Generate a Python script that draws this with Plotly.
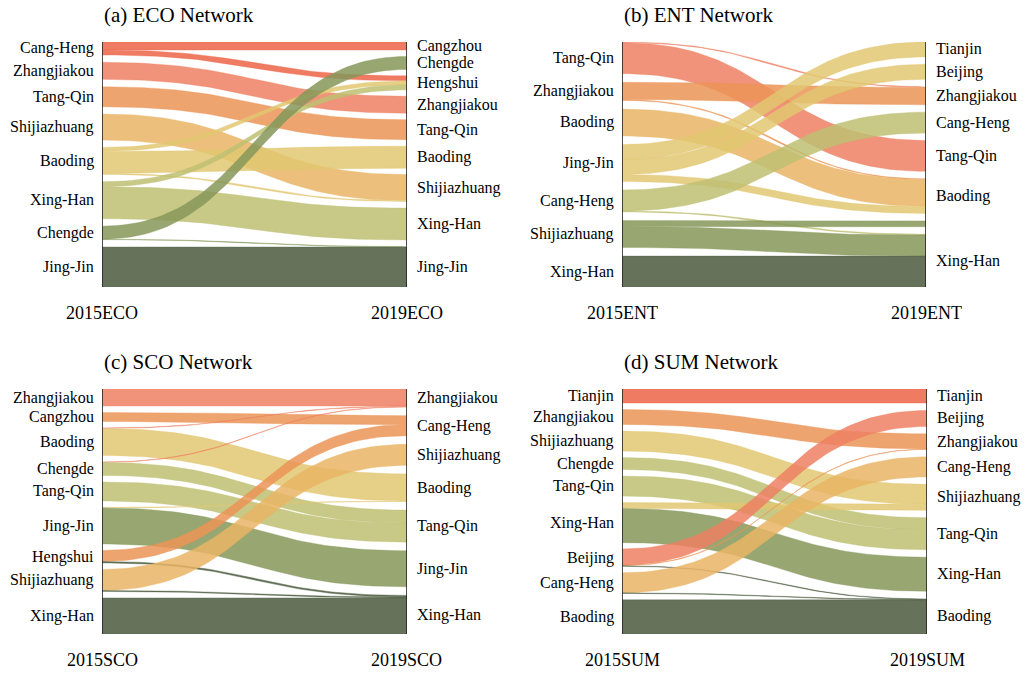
import plotly.graph_objects as go

# ---------------- palette (assigned from the end of the list) ----------------
# base colours, drawn with partial opacity so overlaps blend like the reference
PALETTE = ["#ec6448", "#ed8063", "#eb9456", "#e9b565", "#e2c771", "#bebf72", "#869659", "#4b5b3d"]
ALPHA = 0.85

# ---------------- (a) ECO Network ----------------
A_TITLE = "(a) ECO Network"
A_LEFT_CAP, A_RIGHT_CAP = "2015ECO", "2019ECO"
A_LEFT = ["Cang-Heng", "Zhangjiakou", "Tang-Qin", "Shijiazhuang", "Baoding", "Xing-Han", "Chengde", "Jing-Jin"]
A_RIGHT = ["Cangzhou", "Chengde", "Hengshui", "Zhangjiakou", "Tang-Qin", "Baoding", "Shijiazhuang", "Xing-Han", "Jing-Jin"]
A_RIGHT_LABELS = A_RIGHT
A_SRC = ["Cang-Heng", "Cang-Heng", "Zhangjiakou", "Tang-Qin", "Shijiazhuang", "Baoding", "Baoding", "Baoding",
         "Xing-Han", "Xing-Han", "Chengde", "Chengde", "Jing-Jin"]
A_TGT = ["Cangzhou", "Hengshui", "Zhangjiakou", "Tang-Qin", "Shijiazhuang", "Hengshui", "Baoding", "Shijiazhuang",
         "Hengshui", "Xing-Han", "Chengde", "Jing-Jin", "Jing-Jin"]
A_VAL = [8, 5, 17, 20, 26, 4, 22, 1, 5, 32, 13, 0.5, 40]
A_COLOR_BY = "source"

# ---------------- (b) ENT Network ----------------
B_TITLE = "(b) ENT Network"
B_LEFT_CAP, B_RIGHT_CAP = "2015ENT", "2019ENT"
B_LEFT = ["Tang-Qin", "Zhangjiakou", "Baoding", "Jing-Jin", "Cang-Heng", "Shijiazhuang", "Xing-Han"]
B_RIGHT = ["Tianjin", "Beijing", "Zhangjiakou", "Cang-Heng", "Tang-Qin", "Baoding", "Shijiazhuang", "Xing-Han"]
B_RIGHT_LABELS = ["Tianjin", "Beijing", "Zhangjiakou", "Cang-Heng", "Tang-Qin", "Baoding", "", "Xing-Han"]
B_SRC = ["Tang-Qin", "Tang-Qin", "Zhangjiakou", "Zhangjiakou", "Baoding", "Jing-Jin", "Jing-Jin", "Jing-Jin",
         "Cang-Heng", "Cang-Heng", "Shijiazhuang", "Shijiazhuang", "Xing-Han"]
B_TGT = ["Zhangjiakou", "Tang-Qin", "Zhangjiakou", "Baoding", "Baoding", "Tianjin", "Beijing", "Baoding",
         "Cang-Heng", "Xing-Han", "Shijiazhuang", "Xing-Han", "Xing-Han"]
B_VAL = [0.7, 31, 17.5, 0.8, 27, 15, 15, 7, 21, 1, 6, 21, 31]
B_COLOR_BY = "source"

# ---------------- (c) SCO Network ----------------
C_TITLE = "(c) SCO Network"
C_LEFT_CAP, C_RIGHT_CAP = "2015SCO", "2019SCO"
C_LEFT = ["Zhangjiakou", "Cangzhou", "Baoding", "Chengde", "Tang-Qin", "Jing-Jin", "Hengshui", "Shijiazhuang", "Xing-Han"]
C_RIGHT = ["Zhangjiakou", "Cang-Heng", "Shijiazhuang", "Baoding", "Tang-Qin", "Jing-Jin", "Xing-Han"]
C_RIGHT_LABELS = C_RIGHT
C_SRC = ["Zhangjiakou", "Cangzhou", "Baoding", "Baoding", "Chengde", "Chengde", "Tang-Qin", "Jing-Jin", "Jing-Jin",
         "Hengshui", "Hengshui", "Shijiazhuang", "Shijiazhuang", "Xing-Han"]
C_TGT = ["Zhangjiakou", "Cang-Heng", "Zhangjiakou", "Baoding", "Zhangjiakou", "Tang-Qin", "Tang-Qin", "Baoding", "Jing-Jin",
         "Cang-Heng", "Xing-Han", "Shijiazhuang", "Xing-Han", "Xing-Han"]
C_VAL = [17, 9, 0.5, 27, 0.5, 13, 19, 0.5, 36, 11, 1.5, 21, 1, 36]
C_COLOR_BY = "target"

# ---------------- (d) SUM Network ----------------
D_TITLE = "(d) SUM Network"
D_LEFT_CAP, D_RIGHT_CAP = "2015SUM", "2019SUM"
D_LEFT = ["Tianjin", "Zhangjiakou", "Shijiazhuang", "Chengde", "Tang-Qin", "Xing-Han", "Beijing", "Cang-Heng", "Baoding"]
D_RIGHT = ["Tianjin", "Beijing", "Zhangjiakou", "Cang-Heng", "Shijiazhuang", "Tang-Qin", "Xing-Han", "Baoding"]
D_RIGHT_LABELS = D_RIGHT
D_SRC = ["Tianjin", "Zhangjiakou", "Shijiazhuang", "Chengde", "Tang-Qin", "Xing-Han", "Xing-Han",
         "Beijing", "Beijing", "Beijing", "Cang-Heng", "Cang-Heng", "Baoding"]
D_TGT = ["Tianjin", "Zhangjiakou", "Shijiazhuang", "Tang-Qin", "Tang-Qin", "Shijiazhuang", "Xing-Han",
         "Beijing", "Zhangjiakou", "Baoding", "Cang-Heng", "Baoding", "Baoding"]
D_VAL = [14, 15, 20, 12, 20, 6, 34, 16, 0.6, 0.6, 20, 0.6, 34]
D_COLOR_BY = "target"

# ---------------- layout settings ----------------
W, H_PX = 1032, 676
FILL = 0.79          # share of column height used by nodes (rest = gaps)
N_PTS = 60
FONT = "Liberation Serif, Times New Roman, serif"
# panel pixel boxes: (left, right, top, bottom)
BOXES = [(102, 407, 42, 287), (622, 926, 42, 287), (102, 407, 389, 634), (622, 927, 389, 634)]

panels = [
    dict(title=A_TITLE, lc=A_LEFT_CAP, rc=A_RIGHT_CAP, left=A_LEFT, right=A_RIGHT, rlab=A_RIGHT_LABELS,
         src=A_SRC, tgt=A_TGT, val=A_VAL, cby=A_COLOR_BY),
    dict(title=B_TITLE, lc=B_LEFT_CAP, rc=B_RIGHT_CAP, left=B_LEFT, right=B_RIGHT, rlab=B_RIGHT_LABELS,
         src=B_SRC, tgt=B_TGT, val=B_VAL, cby=B_COLOR_BY),
    dict(title=C_TITLE, lc=C_LEFT_CAP, rc=C_RIGHT_CAP, left=C_LEFT, right=C_RIGHT, rlab=C_RIGHT_LABELS,
         src=C_SRC, tgt=C_TGT, val=C_VAL, cby=C_COLOR_BY),
    dict(title=D_TITLE, lc=D_LEFT_CAP, rc=D_RIGHT_CAP, left=D_LEFT, right=D_RIGHT, rlab=D_RIGHT_LABELS,
         src=D_SRC, tgt=D_TGT, val=D_VAL, cby=D_COLOR_BY),
]


def hex_rgba(h, a):
    h = h.lstrip("#")
    return "rgba(%d,%d,%d,%.2f)" % (int(h[0:2], 16), int(h[2:4], 16), int(h[4:6], 16), a)


def column_positions(names, totals, height):
    n = len(names)
    s = sum(totals[k] for k in names)
    gap = (height - s) / (n - 1) if n > 1 else 0
    pos, y = {}, 0.0
    for k in names:
        pos[k] = y
        y += totals[k] + gap
    return pos


def bez(a, b, t):
    return (1 - t) ** 3 * a + 3 * (1 - t) ** 2 * t * a + 3 * (1 - t) * t ** 2 * b + t ** 3 * b


fig = go.Figure()
annotations, shapes = [], []
ts = [j / (N_PTS - 1) for j in range(N_PTS)]
xs = [3 * (1 - t) ** 2 * t * 0.5 + 3 * (1 - t) * t ** 2 * 0.5 + t ** 3 for t in ts]

for i, (p, box) in enumerate(zip(panels, BOXES)):
    ax = "" if i == 0 else str(i + 1)
    xr, yr = "x" + ax, "y" + ax
    links = list(zip(p["src"], p["tgt"], p["val"]))
    lt = {k: 0.0 for k in p["left"]}
    rt = {k: 0.0 for k in p["right"]}
    for s, t, v in links:
        lt[s] += v
        rt[t] += v
    height = max(sum(lt.values()), sum(rt.values())) / FILL
    lpos = column_positions(p["left"], lt, height)
    rpos = column_positions(p["right"], rt, height)
    li = {k: j for j, k in enumerate(p["left"])}
    ri = {k: j for j, k in enumerate(p["right"])}

    if p["cby"] == "source":
        pal = PALETTE[-len(p["left"]):]
        cmap = {k: pal[j] for j, k in enumerate(p["left"])}
    else:
        pal = PALETTE[-len(p["right"]):]
        cmap = {k: pal[j] for j, k in enumerate(p["right"])}

    loff, roff = {}, {}
    for k in p["left"]:
        y = lpos[k]
        for idx in sorted([j for j, l in enumerate(links) if l[0] == k], key=lambda j: ri[links[j][1]]):
            loff[idx] = y
            y += links[idx][2]
    for k in p["right"]:
        y = rpos[k]
        for idx in sorted([j for j, l in enumerate(links) if l[1] == k], key=lambda j: li[links[j][0]]):
            roff[idx] = y
            y += links[idx][2]

    for idx, (s, t, v) in enumerate(links):
        a0, b0 = loff[idx], roff[idx]
        top = [bez(a0, b0, tt) for tt in ts]
        bot = [bez(a0 + v, b0 + v, tt) for tt in ts]
        col = cmap[s if p["cby"] == "source" else t]
        fig.add_trace(go.Scatter(
            x=xs + xs[::-1], y=top + bot[::-1], xaxis=xr, yaxis=yr,
            mode="lines", fill="toself", fillcolor=hex_rgba(col, ALPHA),
            line=dict(width=0.4, color=hex_rgba(col, ALPHA)),
            hoverinfo="text", text="%s → %s: %s" % (s, t, v), showlegend=False))

    l, r, tpx, bpx = box
    fig.update_layout(**{
        "xaxis" + ax: dict(domain=[l / W, r / W], range=[0, 1], visible=False, fixedrange=True, anchor=yr),
        "yaxis" + ax: dict(domain=[(H_PX - bpx) / H_PX, (H_PX - tpx) / H_PX], range=[height, 0],
                           visible=False, fixedrange=True, anchor=xr),
    })

    for xv in (0, 1):
        shapes.append(dict(type="line", xref=xr, yref=yr + " domain", x0=xv, x1=xv, y0=0, y1=1,
                           line=dict(color="#222222", width=1.6)))

    for k in p["left"]:
        annotations.append(dict(x=0, y=lpos[k] + lt[k] / 2, xref=xr, yref=yr, text=k, showarrow=False,
                                xanchor="right", yanchor="middle", xshift=-6,
                                font=dict(family=FONT, size=16, color="#000")))
    for k, lab in zip(p["right"], p["rlab"]):
        if lab:
            annotations.append(dict(x=1, y=rpos[k] + rt[k] / 2, xref=xr, yref=yr, text=lab, showarrow=False,
                                    xanchor="left", yanchor="middle", xshift=8,
                                    font=dict(family=FONT, size=16, color="#000")))
    annotations.append(dict(x=0, y=1.11, xref=xr + " domain", yref=yr + " domain", text=p["title"],
                            showarrow=False, xanchor="left", yanchor="middle",
                            font=dict(family=FONT, size=21, color="#000")))
    for xv, cap in ((0, p["lc"]), (1, p["rc"])):
        annotations.append(dict(x=xv, y=-0.108, xref=xr + " domain", yref=yr + " domain", text=cap,
                                showarrow=False, xanchor="center", yanchor="middle",
                                font=dict(family=FONT, size=18, color="#000")))

fig.update_layout(width=W, height=H_PX, margin=dict(l=0, r=0, t=0, b=0),
                  paper_bgcolor="white", plot_bgcolor="white",
                  annotations=annotations, shapes=shapes, showlegend=False)

fig.write_html("out.html")
